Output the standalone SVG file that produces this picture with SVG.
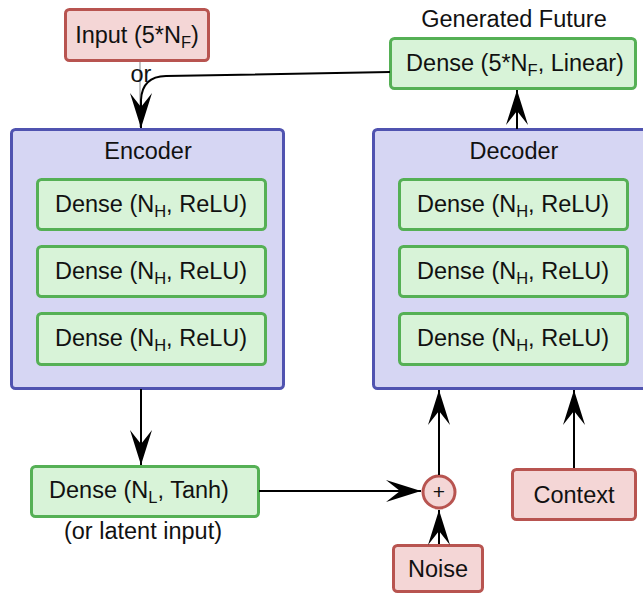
<svg xmlns="http://www.w3.org/2000/svg" width="643" height="593" viewBox="0 0 643 593">
<style>
text{font-family:"Liberation Sans",Arial,sans-serif;font-size:23.5px;fill:#111;text-anchor:middle}
.red{fill:#f4d6d6;stroke:#b85450;stroke-width:3}
.grn{fill:#d8f3d8;stroke:#55b055;stroke-width:3}
.blu{fill:#d6d6f3;stroke:#5053b0;stroke-width:3}
.sub{font-size:16.5px}
.con{fill:none;stroke:#000;stroke-width:2}
</style>
<defs>
<marker id="ah" markerUnits="userSpaceOnUse" viewBox="-37 -12 38 24" refX="0" refY="0" markerWidth="38" markerHeight="24" orient="auto">
<path d="M0,0 L-35,-11 L-21,0 L-35,11 Z" fill="#000"/>
</marker>
</defs>
<rect width="643" height="593" fill="#fff"/>
<g id="input">
<rect class="red" x="65.5" y="9.5" width="143" height="51" rx="4"/>
<text x="137" y="43">Input (5*N<tspan class="sub" dy="5">F</tspan><tspan dy="-5">)</tspan></text>
</g>
<g id="encoder">
<rect class="blu" x="11.5" y="129.5" width="272" height="259" rx="4"/>
<text x="148" y="159">Encoder</text>
<rect class="grn" x="37.5" y="179.5" width="228" height="50" rx="4"/>
<text x="151" y="212">Dense (N<tspan class="sub" dy="5">H</tspan><tspan dy="-5">, ReLU)</tspan></text>
<rect class="grn" x="37.5" y="246.5" width="228" height="50" rx="4"/>
<text x="151" y="279">Dense (N<tspan class="sub" dy="5">H</tspan><tspan dy="-5">, ReLU)</tspan></text>
<rect class="grn" x="37.5" y="313.5" width="228" height="51" rx="4"/>
<text x="151" y="346">Dense (N<tspan class="sub" dy="5">H</tspan><tspan dy="-5">, ReLU)</tspan></text>
</g>
<g id="decoder">
<rect class="blu" x="373.5" y="129.5" width="290" height="259" rx="4"/>
<text x="514" y="159">Decoder</text>
<rect class="grn" x="399.5" y="179.5" width="228" height="50" rx="4"/>
<text x="513" y="212">Dense (N<tspan class="sub" dy="5">H</tspan><tspan dy="-5">, ReLU)</tspan></text>
<rect class="grn" x="399.5" y="246.5" width="228" height="50" rx="4"/>
<text x="513" y="279">Dense (N<tspan class="sub" dy="5">H</tspan><tspan dy="-5">, ReLU)</tspan></text>
<rect class="grn" x="399.5" y="313.5" width="228" height="51" rx="4"/>
<text x="513" y="346">Dense (N<tspan class="sub" dy="5">H</tspan><tspan dy="-5">, ReLU)</tspan></text>
</g>
<g id="output">
<text x="514" y="27">Generated Future</text>
<rect class="grn" x="390.5" y="38.5" width="245" height="50" rx="4"/>
<text x="515" y="71">Dense (5*N<tspan class="sub" dy="5">F</tspan><tspan dy="-5">, Linear)</tspan></text>
</g>
<g id="latent">
<rect class="grn" x="31.5" y="466.5" width="227" height="50" rx="4"/>
<text x="139" y="498">Dense (N<tspan class="sub" dy="5">L</tspan><tspan dy="-5">, Tanh)</tspan></text>
<text x="143" y="539">(or latent input)</text>
</g>
<g id="sum">
<circle class="red" cx="439" cy="492" r="16"/>
<text x="439" y="499" style="font-size:21px">+</text>
</g>
<g id="noise">
<rect class="red" x="393.5" y="545.5" width="89" height="46" rx="4"/>
<text x="438" y="577">Noise</text>
</g>
<g id="context">
<rect class="red" x="512.5" y="469.5" width="123" height="50" rx="4"/>
<text x="574" y="503">Context</text>
</g>
<g id="connectors">
<line x1="140" y1="62" x2="140" y2="127" stroke="#c4c4c4" stroke-width="2"/>
<text x="141" y="82">or</text>
<path class="con" d="M390,72 L166,76 Q142,76.5 141,100 L141,128" marker-end="url(#ah)"/>
<path class="con" d="M141,389 L141,465" marker-end="url(#ah)"/>
<path class="con" d="M259,491 L421,491" marker-end="url(#ah)"/>
<path class="con" d="M439,544 L439,510" marker-end="url(#ah)"/>
<path class="con" d="M439,475 L439,390" marker-end="url(#ah)"/>
<path class="con" d="M574,468 L574,390" marker-end="url(#ah)"/>
<path class="con" d="M517,129 L517,90" marker-end="url(#ah)"/>
</g>
</svg>
